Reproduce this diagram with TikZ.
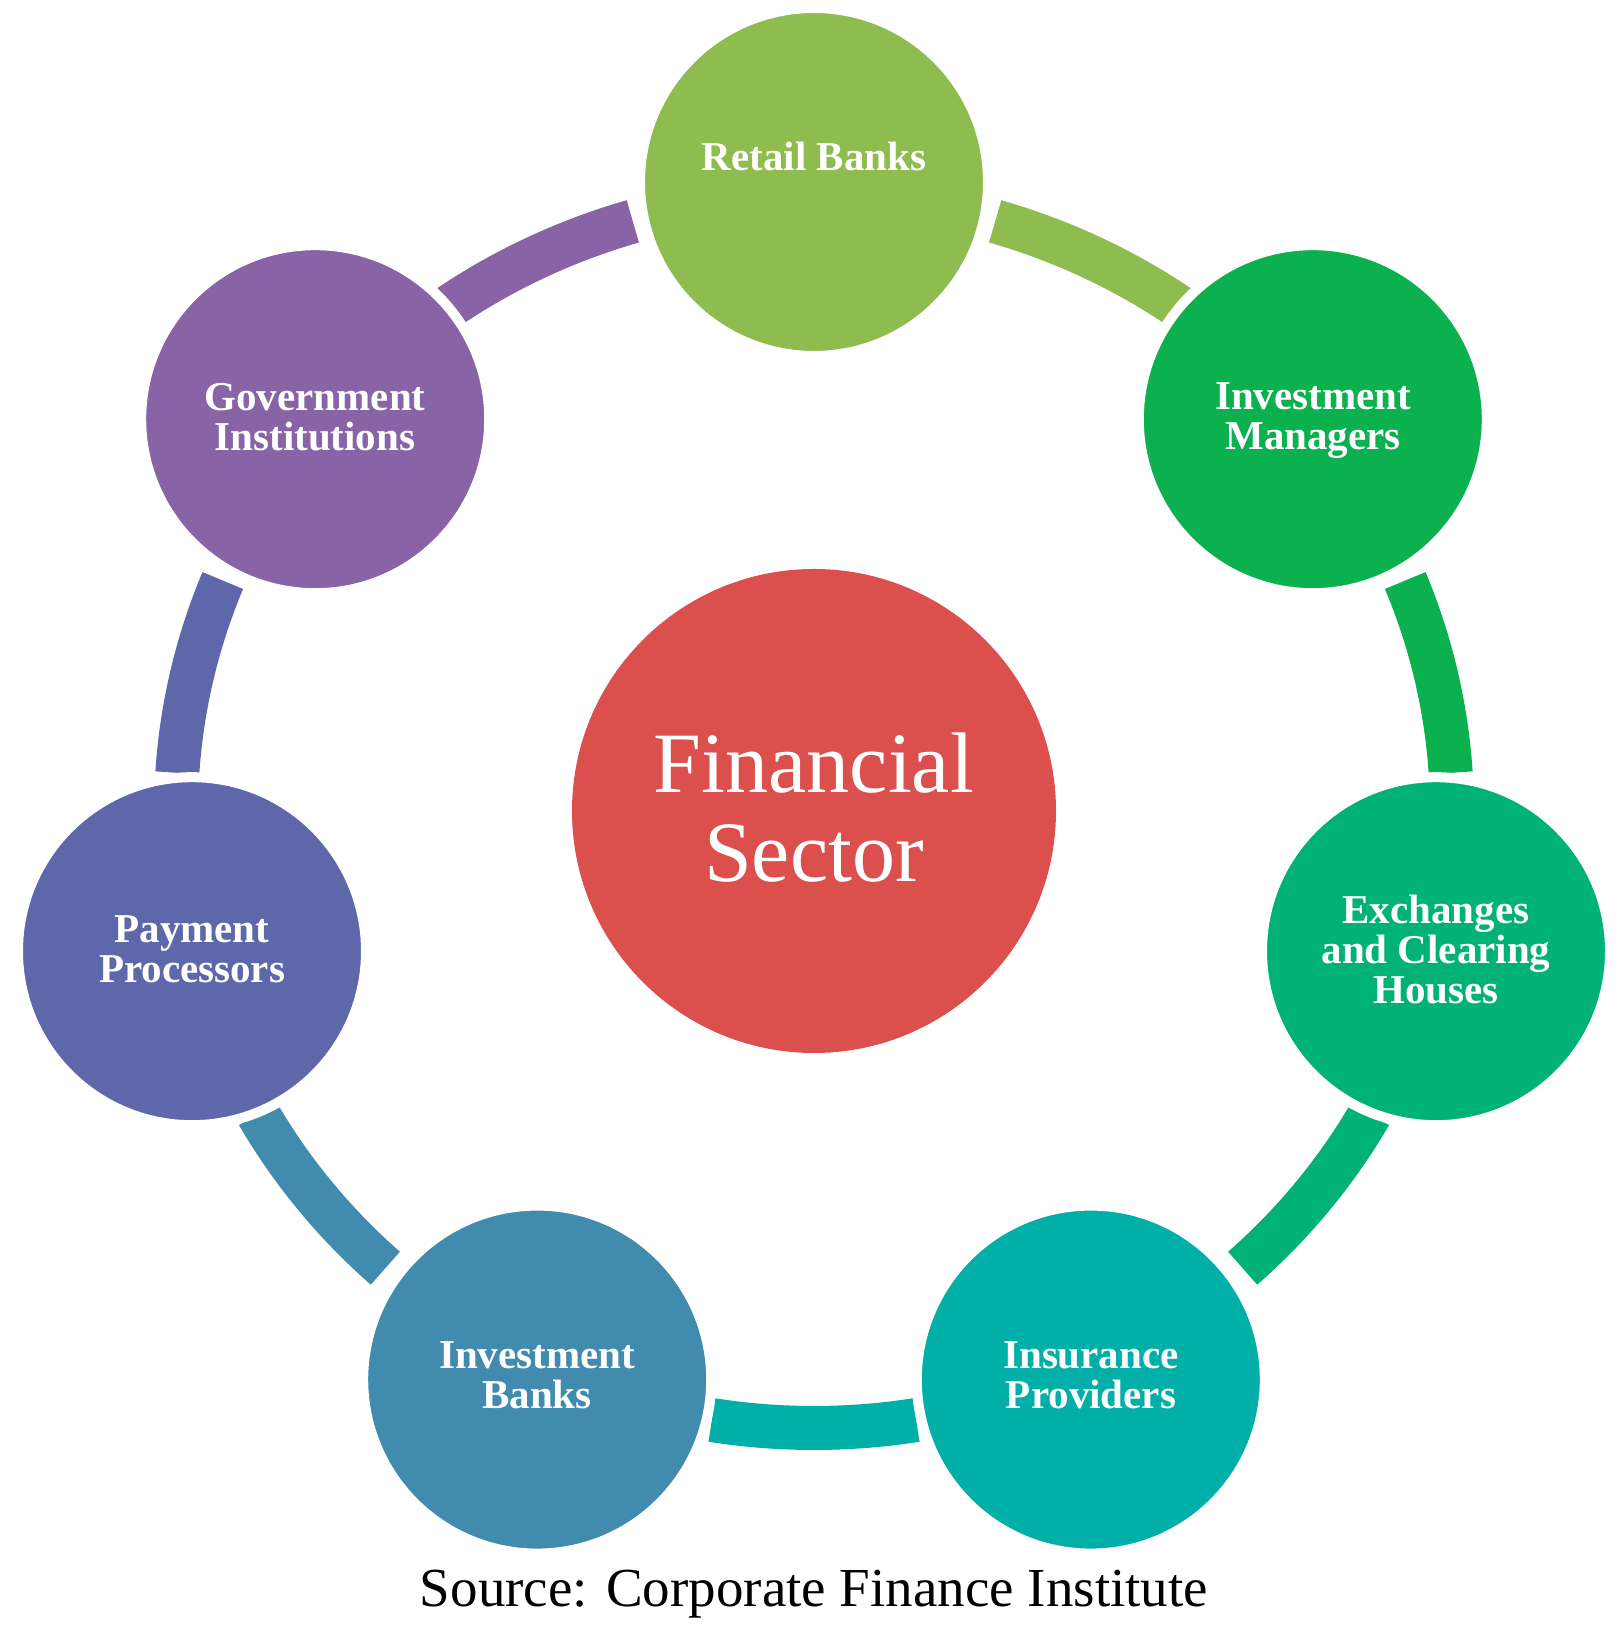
\documentclass[tikz,border=0pt]{standalone}
\usepackage{fontspec}
\setmainfont{Liberation Serif}
\definecolor{cRetail}{RGB}{143,188,79}
\definecolor{cInvMgr}{RGB}{12,177,79}
\definecolor{cExch}{RGB}{0,178,118}
\definecolor{cInsur}{RGB}{0,176,168}
\definecolor{cInvBank}{RGB}{65,139,174}
\definecolor{cPay}{RGB}{94,103,169}
\definecolor{cGov}{RGB}{136,99,165}
\definecolor{cCenter}{RGB}{219,79,76}
\begin{document}
\begin{tikzpicture}[x=1pt,y=1pt,
  bubble/.style={circle, minimum size=348pt, inner sep=0pt, draw=white, line width=10pt},
  lbl/.style={text=white, font=\fontsize{41}{40}\selectfont\bfseries, align=center, inner sep=0pt},
  band/.style={line width=44pt, line cap=butt},
  ringarc/.style={x radius=638pt, y radius=616pt}]
\fill[white] (0,0) rectangle (1620,1631);
\useasboundingbox (0,0) rectangle (1620,1631);
\coordinate (ring) at (814,819);
% connecting arcs
\draw[band, cRetail]  ([shift={(73.5:638pt and 616pt)}]ring) arc[start angle=73.5, end angle=55.071, ringarc];
\draw[band, cInvMgr]  ([shift={(22.071:638pt and 616pt)}]ring) arc[start angle=22.071, end angle=3.643, ringarc];
\draw[band, cExch]    ([shift={(-29.357:638pt and 616pt)}]ring) arc[start angle=-29.357, end angle=-47.786, ringarc];
\draw[band, cInsur]   ([shift={(-80.786:638pt and 616pt)}]ring) arc[start angle=-80.786, end angle=-99.214, ringarc];
\draw[band, cInvBank] ([shift={(-132.214:638pt and 616pt)}]ring) arc[start angle=-132.214, end angle=-150.643, ringarc];
\draw[band, cPay]     ([shift={(-183.643:638pt and 616pt)}]ring) arc[start angle=-183.643, end angle=-202.071, ringarc];
\draw[band, cGov]     ([shift={(124.929:638pt and 616pt)}]ring) arc[start angle=124.929, end angle=106.5, ringarc];
% circles
\node[bubble, fill=cRetail]  (retail)  at (814,1449) {};
\node[bubble, fill=cInvMgr]  (invmgr)  at (1312.8,1211.8) {};
\node[bubble, fill=cExch]    (exch)    at (1436,679.8) {};
\node[bubble, fill=cInsur]   (insur)   at (1090.8,251.4) {};
\node[bubble, fill=cInvBank] (invbank) at (537.2,251.4) {};
\node[bubble, fill=cPay]     (pay)     at (192,679.8) {};
\node[bubble, fill=cGov]     (gov)     at (315.2,1211.8) {};
\node[circle, minimum size=484pt, inner sep=0pt, fill=cCenter] (center) at (814,820) {};
% labels
\node[lbl] (retailT)  at (814,1475) {Retail Banks};
\node[lbl] (invmgrT)  at (1313,1210) {Investment\\Managers};
\node[lbl] (exchT)    at (1436,681) {Exchanges\\and Clearing\\Houses};
\node[lbl] (insurT)   at (1091,256) {Insurance\\Providers};
\node[lbl] (invbankT) at (537,256) {Investment\\Banks};
\node[lbl] (payT)     at (192,682) {Payment\\Processors};
\node[lbl] (govT)     at (315,1214) {Government\\Institutions};
\node[text=white, font=\fontsize{86}{89}\selectfont, align=center, inner sep=0pt] (centerT) at (814,823) {Financial\\Sector};
\node[font=\fontsize{55}{60}\selectfont, anchor=base, inner sep=0pt] (src) at (814,24) {Source: Corporate Finance Institute};
\end{tikzpicture}
\end{document}
